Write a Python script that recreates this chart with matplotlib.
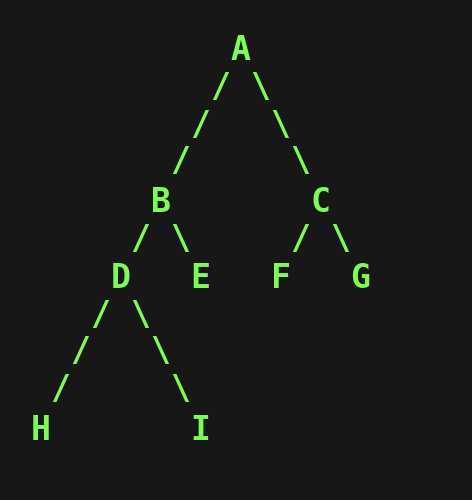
import matplotlib.pyplot as plt

tree_lines = [
    "          A",
    "         / \\",
    "        /   \\",
    "       /     \\",
    "      B       C",
    "     / \\     / \\",
    "    D   E   F   G",
    "   / \\",
    "  /   \\",
    " /     \\",
    "H       I",
]
row_y = [50, 88, 125, 162, 202, 240, 278, 315, 352, 390, 430]

fig = plt.figure(figsize=(4.72, 5.0), dpi=100)
fig.patch.set_facecolor("#171717")
ax = fig.add_axes([0, 0, 1, 1])
ax.set_facecolor("#171717")
ax.set_xlim(0, 472)
ax.set_ylim(500, 0)
ax.axis("off")

for line, y in zip(tree_lines, row_y):
    ax.text(31, y, line, family="DejaVu Sans Mono", fontsize=23.9,
            fontweight="bold", color="#7dfc55", ha="left", va="center")

fig.savefig("out.png", dpi=100, facecolor=fig.get_facecolor())
